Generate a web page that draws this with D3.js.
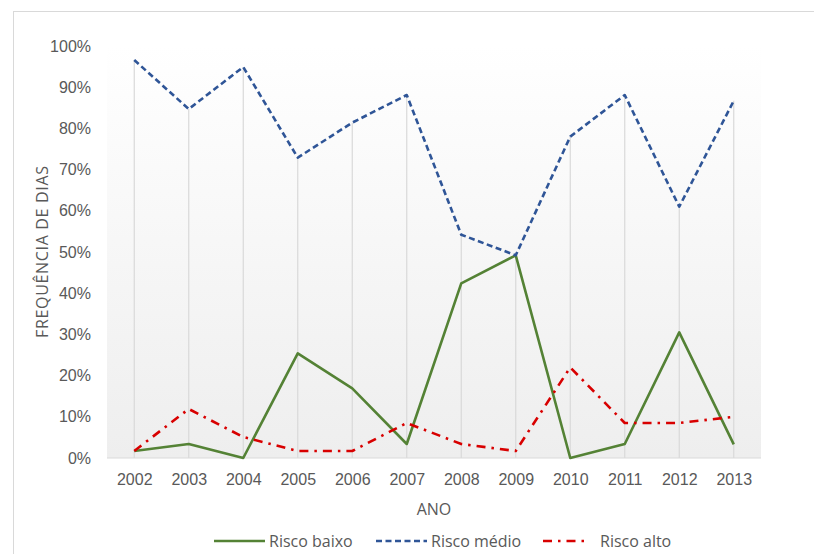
<!DOCTYPE html>
<html>
<head>
<meta charset="utf-8">
<script src="https://cdn.jsdelivr.net/npm/d3@7"></script>
<style>
  html, body { margin: 0; padding: 0; background: #fff; }
  svg { display: block; font-family: "Open Sans", "Noto Sans", sans-serif; }
</style>
</head>
<body>
<svg id="chart" width="814" height="554"></svg>
<script>
// Anos e frequências (%) por classe de risco
const anos = ["2002","2003","2004","2005","2006","2007","2008","2009","2010","2011","2012","2013"];
const riscoBaixo = [1.7, 3.4, 0, 25.4, 16.9, 3.4, 42.4, 49.2, 0, 3.4, 30.5, 3.3];
const riscoMedio = [96.6, 84.7, 94.9, 72.9, 81.4, 88.1, 54.2, 49.2, 78.0, 88.1, 61.0, 86.7];
const riscoAlto  = [1.7, 11.9, 5.1, 1.7, 1.7, 8.5, 3.4, 1.7, 22.0, 8.5, 8.5, 10.0];
const yTicks = [0, 10, 20, 30, 40, 50, 60, 70, 80, 90, 100];
const series = [
  { name: "Risco baixo", values: riscoBaixo, color: "#548235", dash: null },
  { name: "Risco médio", values: riscoMedio, color: "#2f5597", dash: "6,3.5" },
  { name: "Risco alto",  values: riscoAlto,  color: "#d80000", dash: "9,6,2.5,6" }
];

const svg = d3.select("#chart");
const plot = { left: 107, right: 761, top: 46, bottom: 458 };

const x = d3.scalePoint().domain(anos).range([plot.left, plot.right]).padding(0.5);
const y = d3.scaleLinear().domain([0, 100]).range([plot.bottom, plot.top]);

// chart frame
svg.append("rect")
  .attr("x", 13.5).attr("y", 11.5).attr("width", 830).attr("height", 600)
  .attr("fill", "#fff").attr("stroke", "#d9d9d9").attr("stroke-width", 1);

// plot area background gradient
const defs = svg.append("defs");
const grad = defs.append("linearGradient").attr("id", "bg")
  .attr("x1", 0).attr("y1", 0).attr("x2", 0).attr("y2", 1);
grad.append("stop").attr("offset", "0%").attr("stop-color", "#ffffff");
grad.append("stop").attr("offset", "100%").attr("stop-color", "#eeeeee");
svg.append("rect")
  .attr("x", plot.left).attr("y", plot.top)
  .attr("width", plot.right - plot.left).attr("height", plot.bottom - plot.top)
  .attr("fill", "url(#bg)");

// drop lines from the highest point of each year to the axis
const maxima = anos.map((a, i) => d3.max(series, s => s.values[i]));
svg.append("g").selectAll("line").data(anos).join("line")
  .attr("x1", d => x(d)).attr("x2", d => x(d))
  .attr("y1", (d, i) => y(maxima[i])).attr("y2", y(0))
  .attr("stroke", "#d9d9d9").attr("stroke-width", 1.2);

// x axis
const xAxis = svg.append("g").attr("transform", `translate(0,${plot.bottom})`)
  .call(d3.axisBottom(x).tickSize(0).tickPadding(16));
xAxis.select(".domain").attr("d", `M${plot.left},0H${plot.right}`).attr("stroke", "#d9d9d9").attr("stroke-width", 1.2);
xAxis.selectAll("text").attr("fill", "#595959").attr("font-size", 16);

// y axis
const yAxis = svg.append("g").attr("transform", `translate(${plot.left},0)`)
  .call(d3.axisLeft(y).tickValues(yTicks).tickSize(0).tickPadding(16).tickFormat(d => d + "%"));
yAxis.select(".domain").remove();
yAxis.selectAll("text").attr("fill", "#595959").attr("font-size", 16);

// lines
const line = d3.line().x((d, i) => x(anos[i])).y(d => y(d));
svg.append("g").selectAll("path").data(series).join("path")
  .attr("d", s => line(s.values))
  .attr("fill", "none")
  .attr("stroke", s => s.color)
  .attr("stroke-width", 2.6)
  .attr("stroke-dasharray", s => s.dash)
  .attr("stroke-linejoin", "round");

// axis titles
svg.append("text")
  .attr("x", (plot.left + plot.right) / 2).attr("y", 515)
  .attr("text-anchor", "middle").attr("fill", "#595959").attr("font-size", 16)
  .text("ANO");
svg.append("text")
  .attr("transform", `translate(48,${(plot.top + plot.bottom) / 2}) rotate(-90)`)
  .attr("text-anchor", "middle").attr("fill", "#595959").attr("font-size", 16)
  .attr("textLength", 172).attr("lengthAdjust", "spacing")
  .text("FREQUÊNCIA DE DIAS");

// legend
const legendPos = [214, 376, 543];
const legend = svg.append("g").selectAll("g").data(series).join("g")
  .attr("transform", (d, i) => `translate(${legendPos[i]},541)`);
legend.append("line")
  .attr("x1", 0).attr("x2", (d, i) => i === 2 ? 44 : 51)
  .attr("stroke", d => d.color).attr("stroke-width", 2.6)
  .attr("stroke-dasharray", d => d.dash);
legend.append("text")
  .attr("x", (d, i) => i === 2 ? 57 : 55).attr("y", 6)
  .attr("fill", "#595959").attr("font-size", 16)
  .text(d => d.name);
</script>
</body>
</html>
